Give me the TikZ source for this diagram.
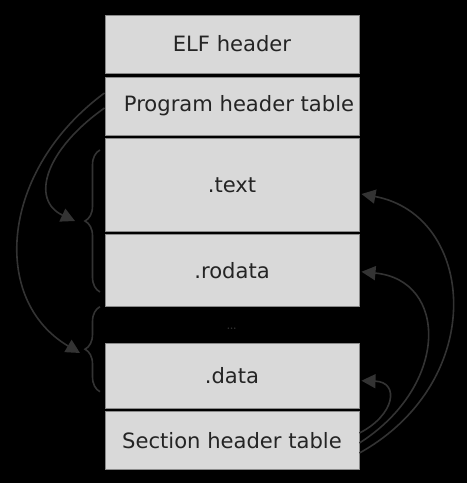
\documentclass[tikz,border=0pt]{standalone}
\usepackage{fontspec}
\newfontfamily\dejavu{DejaVu Sans}
\usetikzlibrary{arrows.meta,decorations.pathreplacing}
\definecolor{boxfill}{HTML}{D9D9D9}
\definecolor{boxline}{HTML}{8A8A8A}
\definecolor{txt}{HTML}{242424}
\definecolor{conn}{HTML}{333333}
\begin{document}
\begin{tikzpicture}[x=1pt,y=-1pt,
  secbox/.style={draw=boxline, line width=1pt, fill=boxfill, text=txt, minimum width=254pt, inner sep=0pt, font=\dejavu\fontsize{21.1}{24}\selectfont},
  link/.style={draw=conn, line width=1.6pt, -{Triangle[length=14pt,width=14pt]}},
  segbrace/.style={draw=conn, line width=1.6pt, decorate, decoration={brace, amplitude=15pt}}]
\fill[black] (0,0) rectangle (467,483);
\useasboundingbox (0,0) rectangle (467,483);
\coordinate (seg1) at (75,221);
\coordinate (seg2) at (80,353);
% boxes
\node[secbox, minimum height=58pt] (elf) at (232,44) {ELF header};
\node[secbox, minimum height=58pt] (pht) at (232,106) {\hspace*{14pt}Program header table};
\node[secbox, minimum height=93.5pt] (text) at (232,184.75) {.text};
\node[secbox, minimum height=72.5pt] (rodata) at (232,270.25) {.rodata};
\node[secbox, minimum height=65pt] (data) at (232,375.5) {.data};
\node[secbox, minimum height=57.5pt] (sht) at (232,440.25) {Section header table};
\node[text=conn, inner sep=0pt, font=\fontsize{19}{20}\selectfont] (dots) at (231.7,329) {\ldots};
% braces
\draw[segbrace] (100,292) -- (100,150);
\draw[segbrace] (100,391.7) -- (100,306.7);
% left arrows
\draw[link] ([yshift=-2pt]pht.west) .. controls (45,150) and (30,200) .. (seg1);
\draw[link] ([yshift=13pt]pht.west) .. controls (0,170) and (-10,300) .. (seg2);
% right arrows
\draw[link] ([yshift=-12.75pt]sht.east) .. controls (490,380) and (475,215) .. ([xshift=2pt,yshift=-9.25pt]text.east);
\draw[link] ([yshift=-2.75pt]sht.east) .. controls (450,385) and (448,280) .. ([xshift=2pt,yshift=-1.5pt]rodata.east);
\draw[link] ([yshift=7.25pt]sht.east) .. controls (395,415) and (400,382) .. ([xshift=2pt,yshift=-5.2pt]data.east);
\end{tikzpicture}
\end{document}
